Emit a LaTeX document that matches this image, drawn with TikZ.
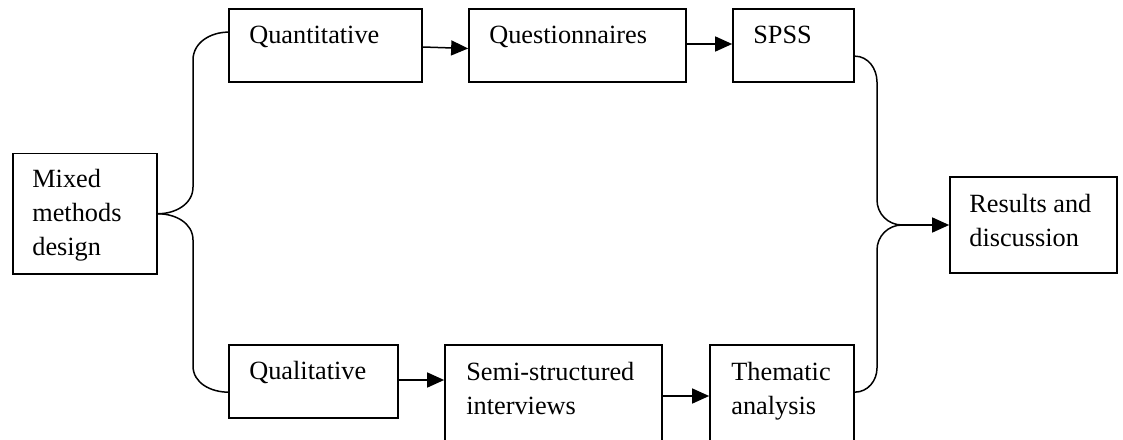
\documentclass[tikz,border=0pt]{standalone}
\usepackage{fontspec}
\setmainfont{Liberation Serif}
\usetikzlibrary{arrows.meta,calc}
\begin{document}
\begin{tikzpicture}[x=1pt,y=-1pt,
  stagebox/.style={draw=black,line width=1.7pt,rectangle,inner sep=0pt,anchor=center},
  lbl/.style={inner sep=0pt,anchor=base west,font=\fontsize{26.3}{34}\selectfont},
  link/.style={draw=black,line width=1.5pt},
  flow/.style={link,-{Triangle[length=17pt,width=15pt]}}
]
\clip (0,0) rectangle (1123,439);
\fill[white] (0,0) rectangle (1123,439);

% stage boxes
\node[stagebox,minimum width=144pt,minimum height=120.5pt] (mix) at (85,213.75) {};
\node[stagebox,minimum width=193pt,minimum height=73pt] (q) at (325.5,45.5) {};
\node[stagebox,minimum width=217pt,minimum height=73pt] (qn) at (577.5,45.5) {};
\node[stagebox,minimum width=121pt,minimum height=73pt] (sp) at (793.5,45.5) {};
\node[stagebox,minimum width=169pt,minimum height=73pt] (ql) at (313.5,381.5) {};
\node[stagebox,minimum width=217pt,minimum height=110pt] (ss) at (553.5,400) {};
\node[stagebox,minimum width=144pt,minimum height=110pt] (th) at (782,400) {};
\node[stagebox,minimum width=167pt,minimum height=96pt] (res) at (1033.5,225) {};

% labels, first baseline 35 below the top edge
\node[lbl] (tmix) at ($(mix.north west)+(20,35)$) {\parbox[t]{130pt}{Mixed\\methods\\design}};
\node[lbl] (tq) at ($(q.north west)+(21,35)$) {Quantitative};
\node[lbl] (tqn) at ($(qn.north west)+(21,35)$) {Questionnaires};
\node[lbl] (tsp) at ($(sp.north west)+(21,35)$) {SPSS};
\node[lbl] (tql) at ($(ql.north west)+(21,35)$) {Qualitative};
\node[lbl] (tss) at ($(ss.north west)+(22,36)$) {\parbox[t]{200pt}{Semi-structured\\interviews}};
\node[lbl] (tth) at ($(th.north west)+(22,36)$) {\parbox[t]{130pt}{Thematic\\analysis}};
\node[lbl] (tres) at ($(res.north west)+(20,36)$) {\parbox[t]{150pt}{Results and\\discussion}};

% attachment points of the two braces
\coordinate (qin) at ($(q.north west)+(0,24)$);
\coordinate (qlin) at ($(ql.north west)+(0,48)$);
\coordinate (spout) at ($(sp.north east)+(0,48)$);
\coordinate (thout) at ($(th.north east)+(0,48)$);
\coordinate (tip) at (902,225);

% left brace
\draw[link] (mix.east) to[out=0,in=-90] (193,187) -- (193,60) to[out=90,in=180] (qin);
\draw[link] (mix.east) to[out=0,in=90] (193,240) -- (193,366) to[out=-90,in=180] (qlin);

% right brace
\draw[link] (spout) to[out=0,in=90] (877,82) -- (877,200) to[out=-90,in=180] (tip);
\draw[link] (thout) to[out=0,in=-90] (877,368) -- (877,250) to[out=90,in=180] (tip);

% arrows between stages
\draw[flow] ($(q.east)+(0,1.5)$) -- ($(qn.west)+(0,3)$);
\draw[flow] ($(qn.east)+(0,-1.5)$) -- ($(sp.west)+(0,-1.5)$);
\draw[flow] ($(ql.east)+(0,-1.5)$) -- ($(ql.east -| ss.west)+(0,-1.5)$);
\draw[flow] ($(ss.east)+(0,-4)$) -- ($(ss.east -| th.west)+(0,-4)$);
\draw[flow] (tip) -- (res.west);
\end{tikzpicture}
\end{document}
